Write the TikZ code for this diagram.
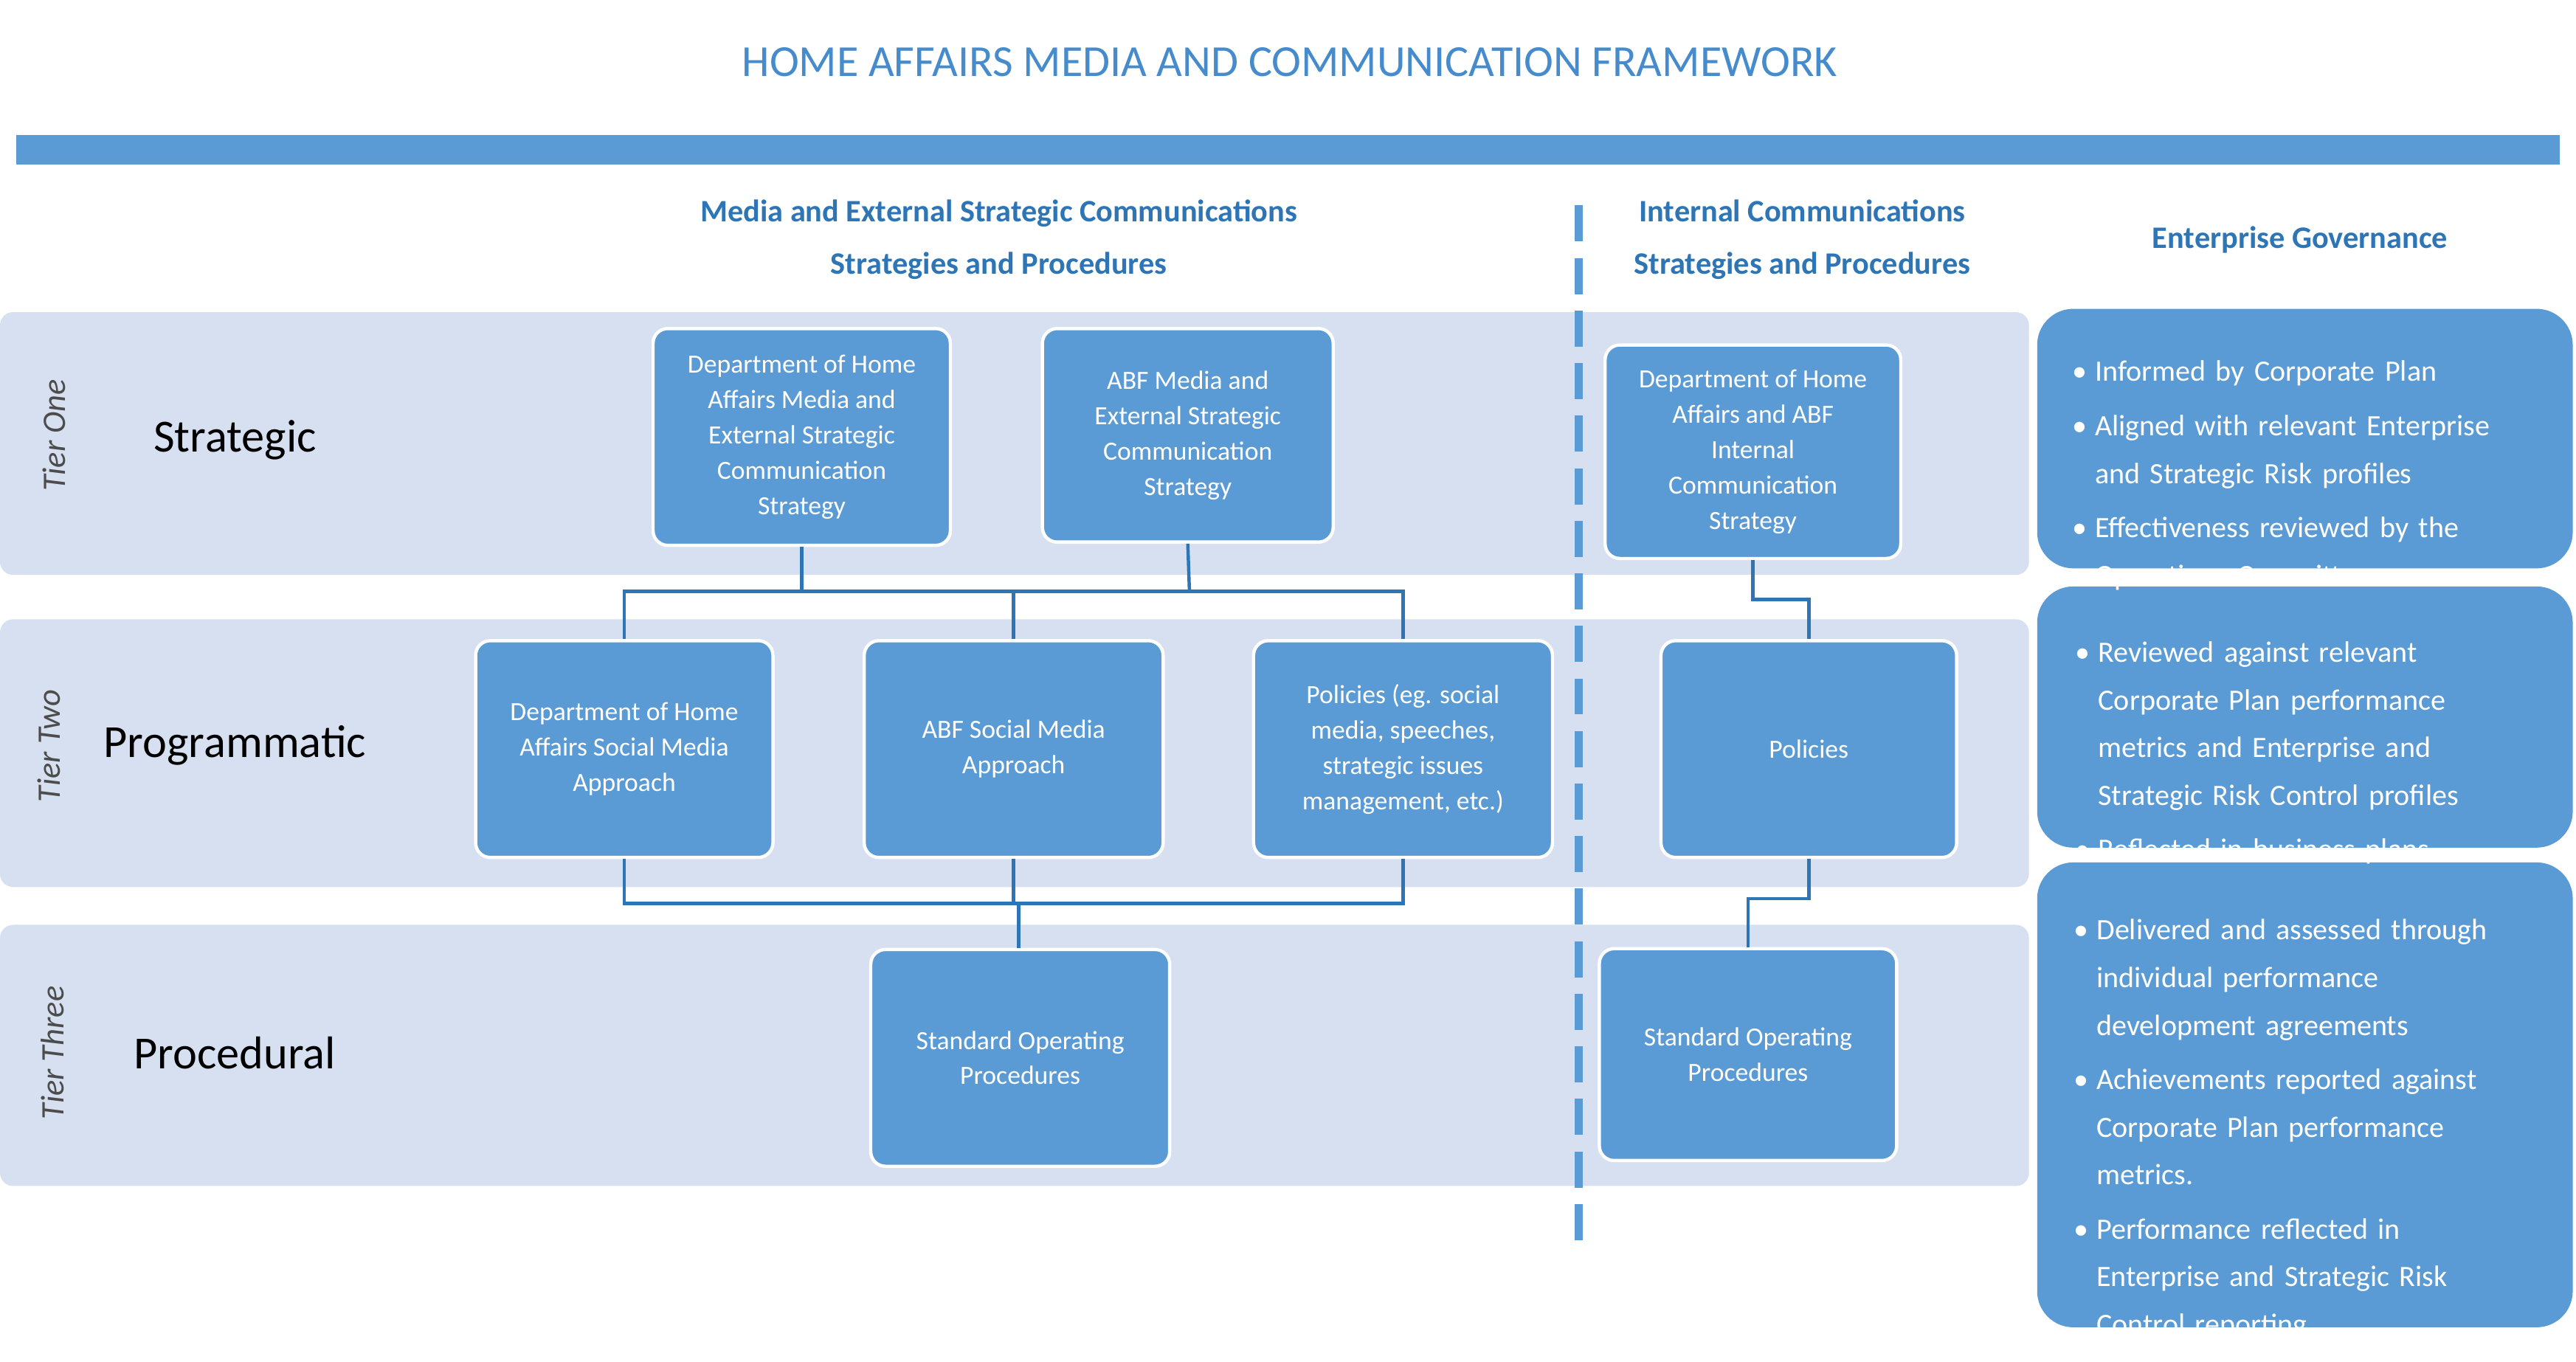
\documentclass[tikz,border=0pt]{standalone}
\usepackage{fontspec}
\setmainfont{Carlito}
\begin{document}
\begin{tikzpicture}[x=1pt,y=-1pt,
  box/.style={draw=white,line width=2pt,fill=boxblue,rounded corners=9pt,text=white,align=center,font=\fontsize{16}{21.5}\selectfont,inner sep=2pt},
  gov/.style={fill=boxblue,rounded corners=22pt,text=white},
  band/.style={fill=bandblue,rounded corners=8pt},
  conn/.style={draw=lineblue,line width=2pt},
  hdr/.style={text=hdrblue,font=\bfseries\fontsize{19}{32}\selectfont,align=center},
  tier/.style={rotate=90,font=\itshape\fontsize{20}{24}\selectfont,text=black!70},
  lvl/.style={font=\fontsize{28}{32}\selectfont}]
\definecolor{boxblue}{RGB}{91,155,213}
\definecolor{bandblue}{RGB}{214,224,240}
\definecolor{lineblue}{RGB}{46,117,182}
\definecolor{hdrblue}{RGB}{46,117,182}
\definecolor{titleblue}{RGB}{70,140,205}
\useasboundingbox[fill=white] (0,0) rectangle (1568,829);
\node[text=titleblue,font=\fontsize{27}{30}\selectfont] (title) at (785,38) {HOME AFFAIRS MEDIA AND COMMUNICATION FRAMEWORK};
\fill[boxblue] (10,82) rectangle (1558,100);
\node[hdr] (h1) at (608,146) {Media and External Strategic Communications\\Strategies and Procedures};
\node[hdr] (h2) at (1097,146) {Internal Communications\\Strategies and Procedures};
\node[hdr] (h3) at (1400,146) {Enterprise Governance};
% bands
\fill[band] (0,190) rectangle (1235,350);
\fill[band] (0,377) rectangle (1235,540);
\fill[band] (0,563) rectangle (1235,722);
\draw[boxblue,line width=5pt,dash pattern=on 22pt off 10pt] (961,125) -- (961,755);
\node[tier] (t1) at (33,265) {Tier One};
\node[tier] (t2) at (30,454) {Tier Two};
\node[tier] (t3) at (32,641) {Tier Three};
\node[lvl] (l1) at (143,268) {Strategic};
\node[lvl] (l2) at (143,454) {Programmatic};
\node[lvl] (l3) at (143,641) {Procedural};
% boxes
\node[box,minimum width=181pt,minimum height=132pt] (A) at (488,266) {Department of Home\\Affairs Media and\\External Strategic\\Communication\\Strategy};
\node[box,minimum width=177pt,minimum height=130pt] (B) at (723,265) {ABF Media and\\External Strategic\\Communication\\Strategy};
\node[box,minimum width=180pt,minimum height=130pt] (C) at (1067,275) {Department of Home\\Affairs and ABF\\Internal\\Communication\\Strategy};
\node[box,minimum width=181pt,minimum height=132pt] (D) at (380,456) {Department of Home\\Affairs Social Media\\Approach};
\node[box,minimum width=182pt,minimum height=132pt] (E) at (617,456) {ABF Social Media\\Approach};
\node[box,minimum width=182pt,minimum height=132pt] (F) at (854,456) {Policies (eg. social\\media, speeches,\\strategic issues\\management, etc.)};
\node[box,minimum width=180pt,minimum height=132pt] (G) at (1101,456) {Policies};
\node[box,minimum width=182pt,minimum height=132pt] (H) at (621,644) {Standard Operating\\Procedures};
\node[box,minimum width=181pt,minimum height=129pt] (I) at (1064,642) {Standard Operating\\Procedures};
% connectors
\coordinate (j1) at (488,360); \coordinate (j2) at (724,360);
\draw[conn] (A.south) -- (j1); \draw[conn] (B.south) -- (j2);
\draw[conn] (D.north) |- (j1) -| (F.north);
\draw[conn] (E.north) -- (E.north |- j1);
\coordinate (k) at (620,550);
\draw[conn] (D.south) |- (k) -| (F.south);
\draw[conn] (E.south) -- (E.south |- k);
\draw[conn] (k) -- (k |- H.north);
\coordinate (c1) at (1067,365);
\draw[conn] (C.south) -- (c1) -| (G.north);
\coordinate (g1) at (1101,547);
\draw[conn] (G.south) -- (g1) -| (I.north);
% governance
\fill[gov] (1240,188) rectangle (1566,346);
\fill[gov] (1240,357) rectangle (1566,516);
\fill[gov] (1240,525) rectangle (1566,808);
\tikzset{gl/.style={anchor=north west,text=white,align=left,text width=290pt,font=\fontsize{18}{29}\selectfont,inner sep=0pt}}
\node[gl] (g1t) at (1250,195) {\begin{itemize}\setlength{\itemsep}{0pt}\setlength{\parsep}{0pt}\setlength{\leftmargin}{24pt}\setlength{\topsep}{0pt}
\item Informed by Corporate Plan
\item Aligned with relevant Enterprise and Strategic Risk profiles
\item Effectiveness reviewed by the Operations Committee\end{itemize}};
\node[gl] (g2t) at (1252,366) {\begin{itemize}\setlength{\itemsep}{0pt}\setlength{\parsep}{0pt}\setlength{\topsep}{0pt}
\item Reviewed against relevant Corporate Plan performance metrics and Enterprise and Strategic Risk Control profiles
\item Reflected in business plans\end{itemize}};
\node[gl] (g3t) at (1251,535) {\begin{itemize}\setlength{\itemsep}{0pt}\setlength{\parsep}{0pt}\setlength{\topsep}{0pt}
\item Delivered and assessed through individual performance development agreements
\item Achievements reported against Corporate Plan performance metrics.
\item Performance reflected in Enterprise and Strategic Risk Control reporting.\end{itemize}};
\end{tikzpicture}
\end{document}
